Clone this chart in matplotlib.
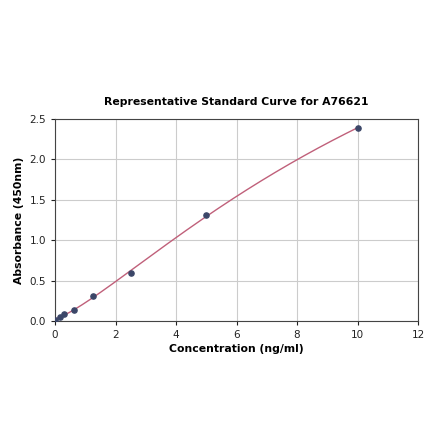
import numpy as np
import matplotlib.pyplot as plt

# standard points
conc = [0.0, 0.156, 0.312, 0.625, 1.25, 2.5, 5.0, 10.0]
absorb = [0.01, 0.05, 0.09, 0.14, 0.31, 0.59, 1.31, 2.39]

x = np.array(conc)
y = np.array(absorb)

# crude 4PL fit: grid search over b, c; linear least squares for a, d
best = None
for b in np.linspace(1.0, 3.0, 81):
    for c in np.linspace(5, 60, 221):
        g = 1.0 / (1.0 + (x / c) ** b)
        A = np.column_stack([g, 1 - g])
        sol, *_ = np.linalg.lstsq(A, y, rcond=None)
        err = np.sum((A @ sol - y) ** 2)
        if best is None or err < best[0]:
            best = (err, b, c, sol)
_, b, c, (a, d) = best

grid = np.linspace(0, 10, 300)
gg = 1.0 / (1.0 + (grid / c) ** b)
fit = a * gg + d * (1 - gg)

fig = plt.figure(figsize=(4.4, 4.41), dpi=100)
ax = fig.add_axes([0.125, 0.272, 0.825, 0.458])
ax.plot(grid, fit, color="#c0607a", lw=1.0, zorder=2)
ax.scatter(conc, absorb, s=14, color="#3b4668", zorder=3)

ax.set_xlim(0, 12)
ax.set_ylim(0, 2.5)
ax.set_xticks(np.arange(0, 13, 2))
ax.set_yticks(np.arange(0, 2.6, 0.5))
ax.grid(True, color="#cccccc", lw=0.8)
ax.set_axisbelow(True)
for s in ax.spines.values():
    s.set_color("#444444")
ax.tick_params(labelsize=7.5, length=3, colors="#222222")
ax.set_title("Representative Standard Curve for A76621", fontsize=7.8, fontweight="bold", pad=10)
ax.set_xlabel("Concentration (ng/ml)", fontsize=7.8, fontweight="bold", labelpad=3)
ax.set_ylabel("Absorbance (450nm)", fontsize=7.8, fontweight="bold", labelpad=4)

fig.savefig("out.png", dpi=100)
